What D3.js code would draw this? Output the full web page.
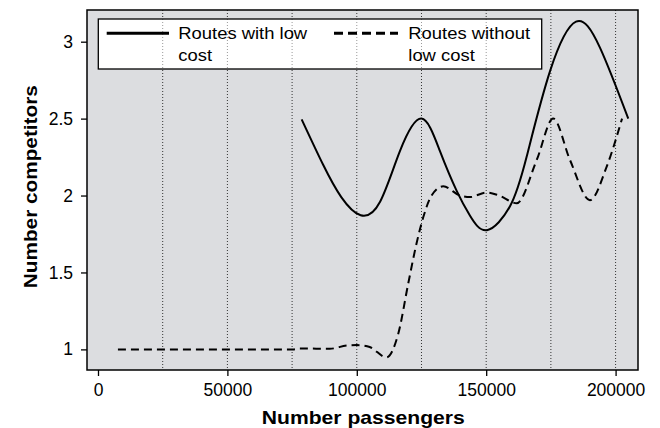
<!DOCTYPE html>
<html>
<head>
<meta charset="utf-8">
<script src="https://cdn.jsdelivr.net/npm/d3@7"></script>
<style>
  html, body { margin: 0; padding: 0; background: #fff; }
  svg { display: block; font-family: "Liberation Sans", Arial, sans-serif; }
</style>
</head>
<body>
<svg id="chart" width="660" height="428"></svg>
<script>
// ---- data ----
const lowCostX = [78700, 87000, 94000, 101500, 109000, 116700, 125000, 132100, 138600, 143700, 150300, 159200, 165600, 174700, 184700, 194000, 204900];
const lowCostY = [2.495, 2.2, 1.99, 1.872, 1.96, 2.29, 2.5, 2.29, 2.03, 1.87, 1.775, 1.93, 2.25, 2.81, 3.13, 2.96, 2.5];
const noLowCostX = [7700, 75300, 78000, 89600, 96100, 100000, 105000, 111500, 116000, 119900, 123100, 125700, 128900, 133400, 139900, 143700, 150200, 155000, 161800, 169500, 175900, 182400, 190100, 196600, 202500];
const noLowCostY = [1.0, 1.0, 1.006, 1.004, 1.025, 1.028, 1.015, 0.948, 1.10, 1.43, 1.69, 1.86, 2.0, 2.06, 2.0, 1.99, 2.02, 2.0, 1.95, 2.23, 2.5, 2.23, 1.97, 2.19, 2.5];
const xTicks = [0, 50000, 100000, 150000, 200000];
const yTicks = [1, 1.5, 2, 2.5, 3];
const gridX = [25000, 50000, 75000, 100000, 125000, 150000, 175000, 200000];
const legendLabels = [["Routes with low", "cost"], ["Routes without", "low cost"]];
const xTitle = "Number passengers";
const yTitle = "Number competitors";

// ---- layout ----
const svg = d3.select("#chart");
const L = 87, R = 638, T = 10, B = 370;
const x = d3.scaleLinear().domain([-4250, 208660]).range([L, R]);
const y = d3.scaleLinear().domain([0.866, 3.206]).range([B, T]);

// background
svg.append("rect").attr("x", L).attr("y", T).attr("width", R - L).attr("height", B - T)
  .attr("fill", "#dcdde0");

// vertical dotted grid
svg.append("g").selectAll("line").data(gridX).join("line")
  .attr("x1", d => x(d)).attr("x2", d => x(d))
  .attr("y1", T).attr("y2", B)
  .attr("stroke", "#333").attr("stroke-width", 1).attr("stroke-dasharray", "1,2");

// legend box (grid shows faintly through it)
const LGx = 98.3, LGy = 19, LGw = 443.4, LGh = 50;
svg.append("rect").attr("x", LGx).attr("y", LGy).attr("width", LGw).attr("height", LGh)
  .attr("fill", "#fff");
svg.append("g").selectAll("line").data(gridX.filter(d => x(d) > LGx && x(d) < LGx + LGw)).join("line")
  .attr("x1", d => x(d)).attr("x2", d => x(d))
  .attr("y1", LGy).attr("y2", LGy + LGh)
  .attr("stroke", "#999").attr("stroke-width", 1).attr("stroke-dasharray", "1,2");
svg.append("rect").attr("x", LGx).attr("y", LGy).attr("width", LGw).attr("height", LGh)
  .attr("fill", "none").attr("stroke", "#000").attr("stroke-width", 1.3);

// axes
const xAxis = d3.axisBottom(x).tickValues(xTicks).tickFormat(d3.format("d")).tickSize(6).tickPadding(8);
const yAxis = d3.axisLeft(y).tickValues(yTicks).tickFormat(d => d).tickSize(6).tickPadding(8);
const gx = svg.append("g").attr("transform", `translate(0,${B})`).call(xAxis);
const gy = svg.append("g").attr("transform", `translate(${L},0)`).call(yAxis);
[gx, gy].forEach(g => {
  g.select(".domain").remove();
  g.selectAll(".tick line").attr("stroke", "#000").attr("stroke-width", 1.3);
  g.selectAll(".tick text").attr("fill", "#000").attr("font-size", 17.5)
    .attr("font-family", "'Liberation Sans', Arial, sans-serif");
});

// lines
const solidLine = d3.line().x(d => x(d[0])).y(d => y(d[1])).curve(d3.curveNatural);
const dashLine = d3.line().x(d => x(d[0])).y(d => y(d[1])).curve(d3.curveMonotoneX);
const solidData = lowCostX.map((v, i) => [v, lowCostY[i]]);
const dashData = noLowCostX.map((v, i) => [v, noLowCostY[i]]);
svg.append("path").datum(solidData).attr("d", solidLine)
  .attr("fill", "none").attr("stroke", "#000").attr("stroke-width", 2);
svg.append("path").datum(dashData).attr("d", dashLine)
  .attr("fill", "none").attr("stroke", "#000").attr("stroke-width", 2).attr("stroke-dasharray", "8,5");

// frame
svg.append("rect").attr("x", L).attr("y", T).attr("width", R - L).attr("height", B - T)
  .attr("fill", "none").attr("stroke", "#000").attr("stroke-width", 1.5);

// legend content
svg.append("line").attr("x1", 106.7).attr("x2", 169).attr("y1", 33.3).attr("y2", 33.3)
  .attr("stroke", "#000").attr("stroke-width", 3);
svg.append("line").attr("x1", 334).attr("x2", 398).attr("y1", 33.3).attr("y2", 33.3)
  .attr("stroke", "#000").attr("stroke-width", 3).attr("stroke-dasharray", "9,5");
const legFont = 16.5;
const legTargetW = 129; // width of "Routes with low" in the reference
const lgTexts = [[178.3, legendLabels[0]], [408.3, legendLabels[1]]];
const probe = svg.append("text").attr("font-size", legFont).text(legendLabels[0][0]);
const sx = legTargetW / probe.node().getComputedTextLength();
probe.remove();
lgTexts.forEach(([lx, lines]) => {
  const g = svg.append("g").attr("transform", `translate(${lx},0) scale(${sx},1)`);
  lines.forEach((s, i) => g.append("text").attr("x", 0).attr("y", i ? 60.7 : 39)
    .attr("font-size", legFont).attr("fill", "#000").text(s));
});

// titles
svg.append("text").attr("x", 363.3).attr("y", 424.3).attr("text-anchor", "middle")
  .attr("font-size", 17.7).attr("font-weight", "bold")
  .attr("textLength", 203).attr("lengthAdjust", "spacingAndGlyphs").text(xTitle);
svg.append("text").attr("transform", `translate(37,186.7) rotate(-90)`)
  .attr("text-anchor", "middle").attr("font-size", 17.7).attr("font-weight", "bold")
  .attr("textLength", 203).attr("lengthAdjust", "spacingAndGlyphs").text(yTitle);
</script>
</body>
</html>
